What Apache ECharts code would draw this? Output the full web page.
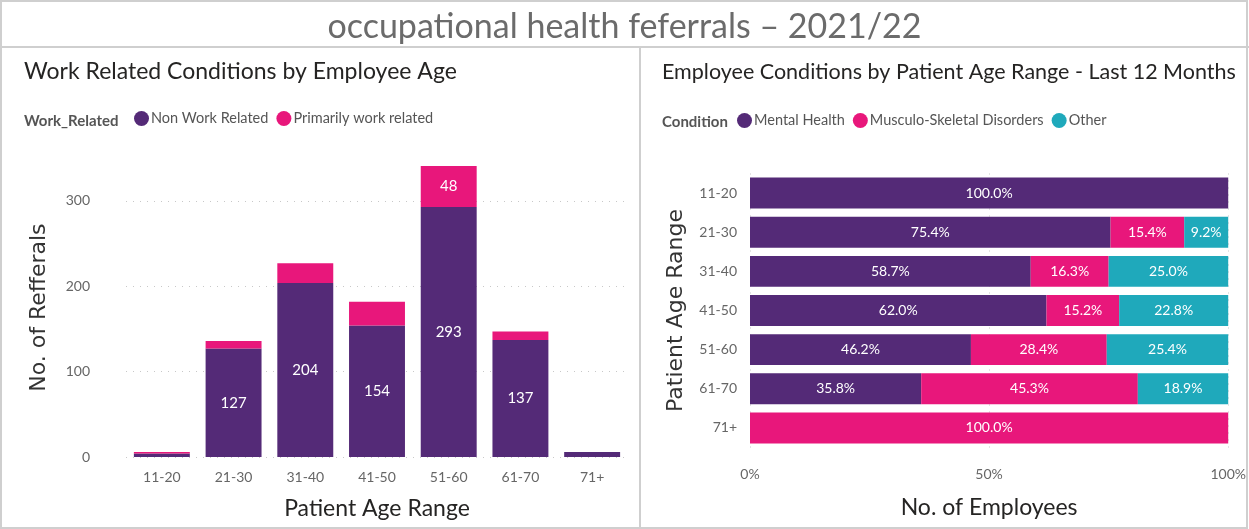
<!DOCTYPE html>
<html>
<head>
  <meta charset="utf-8" />
  <title>occupational health</title>
  <style>
    html, body { margin: 0; padding: 0; background: #fff; }
    #main { width: 1249px; height: 529px; }
  </style>
</head>
<body>
  <div id="main"></div>
  <script src="https://cdn.jsdelivr.net/npm/echarts@6/dist/echarts.min.js"></script>
  <script>
    // left chart: referrals by age, stacked
    let ageRanges = ["11-20", "21-30", "31-40", "41-50", "51-60", "61-70", "71+"];
    let nonWorkRelated = [4, 127, 204, 154, 293, 137, 6];
    let workRelated = [2, 9, 23, 28, 48, 10, 0];
    let referralTicks = [0, 100, 200, 300];

    // right chart: condition share by age (%)
    let mentalHealth = [100.0, 75.4, 58.7, 62.0, 46.2, 35.8, 0];
    let musculoSkeletal = [0, 15.4, 16.3, 15.2, 28.4, 45.3, 100.0];
    let otherCond = [0, 9.2, 25.0, 22.8, 25.4, 18.9, 0];

    const PURPLE = "#542a77";
    const PINK = "#e8177b";
    const TEAL = "#1fa9bb";
    const FONT = "Lato";
    const WIDE = "'DejaVu Sans', Verdana, sans-serif";
    const dotted = { color: "#c8c8c8", type: [1, 6], width: 1 };

    option = {
      animation: false,
      textStyle: { fontFamily: FONT },
      title: [
        {
          text: "occupational health feferrals \u2013 2021/22",
          left: "center",
          top: 5,
          textStyle: { fontFamily: FONT, fontSize: 34, fontWeight: "normal", color: "#6b6b6b" },
        },
        {
          text: "Work Related Conditions by Employee Age",
          left: 19,
          top: 55,
          textStyle: { fontFamily: FONT, fontSize: 23, fontWeight: "normal", color: "#252423" },
        },
        {
          text: "Employee Conditions by Patient Age Range - Last 12 Months",
          left: 657,
          top: 56,
          textStyle: { fontFamily: FONT, fontSize: 21.5, fontWeight: "normal", color: "#252423" },
        },
        {
          text: "Work_Related",
          left: 19,
          top: 109,
          textStyle: { fontFamily: FONT, fontSize: 15, fontWeight: "bold", color: "#555" },
        },
        {
          text: "Condition",
          left: 657,
          top: 110,
          textStyle: { fontFamily: FONT, fontSize: 15, fontWeight: "bold", color: "#555" },
        },
      ],
      legend: [
        {
          data: ["Non Work Related", "Primarily work related"],
          left: 134,
          top: 111,
          icon: "circle",
          itemWidth: 15,
          itemHeight: 15,
          itemGap: 8,
          padding: 0,
          textStyle: { fontFamily: FONT, fontSize: 14.5, color: "#555", padding: [0, 0, 0, -3] },
        },
        {
          data: ["Mental Health", "Musculo-Skeletal Disorders", "Other"],
          left: 737,
          top: 113,
          icon: "circle",
          itemWidth: 15,
          itemHeight: 15,
          itemGap: 8,
          padding: 0,
          textStyle: { fontFamily: FONT, fontSize: 14.5, color: "#555", padding: [0, 0, 0, -3] },
        },
      ],
      grid: [
        { left: 126, right: 621, top: 158.3, bottom: 72 },
        { left: 750, right: 19, top: 173.5, bottom: 81.5 },
      ],
      xAxis: [
        {
          type: "category",
          gridIndex: 0,
          data: ageRanges,
          axisLine: { show: false },
          axisTick: { show: false },
          axisLabel: { color: "#666", fontSize: 14, margin: 13, fontFamily: FONT },
          name: "Patient Age Range",
          nameLocation: "middle",
          nameGap: 40,
          nameTextStyle: { fontFamily: FONT, fontSize: 23, color: "#252423" },
        },
        {
          type: "value",
          gridIndex: 1,
          min: 0,
          max: 100,
          interval: 50,
          axisLine: { show: false },
          axisTick: { show: false },
          splitLine: { lineStyle: dotted },
          axisLabel: { color: "#666", fontSize: 14, margin: 20, fontFamily: FONT, formatter: "{value}%" },
          name: "No. of Employees",
          nameLocation: "middle",
          nameGap: 49,
          nameTextStyle: { fontFamily: FONT, fontSize: 23, color: "#252423" },
        },
      ],
      yAxis: [
        {
          type: "value",
          gridIndex: 0,
          min: 0,
          max: 350,
          interval: 100,
          axisLine: { show: false },
          axisTick: { show: false },
          splitLine: {
            lineStyle: {
              type: [1, 6],
              width: 1,
              color: referralTicks.map(() => "#c8c8c8").concat(["rgba(0,0,0,0)"]),
            },
          },
          axisLabel: { color: "#666", fontSize: 14, margin: 36, fontFamily: FONT, showMaxLabel: false },
          name: "No. of Refferals",
          nameLocation: "middle",
          nameGap: 76,
          nameTextStyle: { fontFamily: WIDE, fontSize: 22, color: "#333" },
        },
        {
          type: "category",
          gridIndex: 1,
          data: ageRanges,
          inverse: true,
          axisLine: { show: false },
          axisTick: { show: false },
          axisLabel: { color: "#666", fontSize: 14, margin: 13, fontFamily: FONT },
          name: "Patient Age Range",
          nameLocation: "middle",
          nameGap: 63,
          nameTextStyle: { fontFamily: WIDE, fontSize: 22, color: "#333" },
        },
      ],
      series: [
        {
          name: "Non Work Related",
          type: "bar",
          stack: "left",
          xAxisIndex: 0,
          yAxisIndex: 0,
          barCategoryGap: "22%",
          itemStyle: { color: PURPLE },
          label: {
            show: true,
            position: "inside",
            color: "#fff",
            fontSize: 15,
            fontFamily: FONT,
            formatter: (p) => (p.value >= 40 ? p.value : ""),
          },
          data: nonWorkRelated,
        },
        {
          name: "Primarily work related",
          type: "bar",
          stack: "left",
          xAxisIndex: 0,
          yAxisIndex: 0,
          barCategoryGap: "22%",
          itemStyle: { color: PINK },
          label: {
            show: true,
            position: "inside",
            color: "#fff",
            fontSize: 15,
            fontFamily: FONT,
            formatter: (p) => (p.value >= 40 ? p.value : ""),
          },
          data: workRelated,
        },
        {
          name: "Mental Health",
          type: "bar",
          stack: "right",
          xAxisIndex: 1,
          yAxisIndex: 1,
          barCategoryGap: "21%",
          itemStyle: { color: PURPLE },
          label: {
            show: true,
            position: "inside",
            color: "#fff",
            fontSize: 14,
            fontFamily: FONT,
            formatter: (p) => (p.value > 0 ? p.value.toFixed(1) + "%" : ""),
          },
          data: mentalHealth,
        },
        {
          name: "Musculo-Skeletal Disorders",
          type: "bar",
          stack: "right",
          xAxisIndex: 1,
          yAxisIndex: 1,
          barCategoryGap: "21%",
          itemStyle: { color: PINK },
          label: {
            show: true,
            position: "inside",
            color: "#fff",
            fontSize: 14,
            fontFamily: FONT,
            formatter: (p) => (p.value > 0 ? p.value.toFixed(1) + "%" : ""),
          },
          data: musculoSkeletal,
        },
        {
          name: "Other",
          type: "bar",
          stack: "right",
          xAxisIndex: 1,
          yAxisIndex: 1,
          barCategoryGap: "21%",
          itemStyle: { color: TEAL },
          label: {
            show: true,
            position: "inside",
            color: "#fff",
            fontSize: 14,
            fontFamily: FONT,
            formatter: (p) => (p.value > 0 ? p.value.toFixed(1) + "%" : ""),
          },
          data: otherCond,
        },
      ],
      graphic: [
        // panel frame
        {
          type: "rect",
          shape: { x: 1, y: 1, width: 1246, height: 527 },
          style: { fill: "none", stroke: "#cfcfcf", lineWidth: 2 },
          silent: true,
        },
        {
          type: "line",
          shape: { x1: 0, y1: 47, x2: 1249, y2: 47 },
          style: { stroke: "#cfcfcf", lineWidth: 2 },
          silent: true,
        },
        {
          type: "line",
          shape: { x1: 640, y1: 47, x2: 640, y2: 529 },
          style: { stroke: "#cfcfcf", lineWidth: 2 },
          silent: true,
        },
      ],
    };

    chartMain = echarts.init(document.getElementById("main"));
    chartMain.setOption(option);
  </script>
</body>
</html>
